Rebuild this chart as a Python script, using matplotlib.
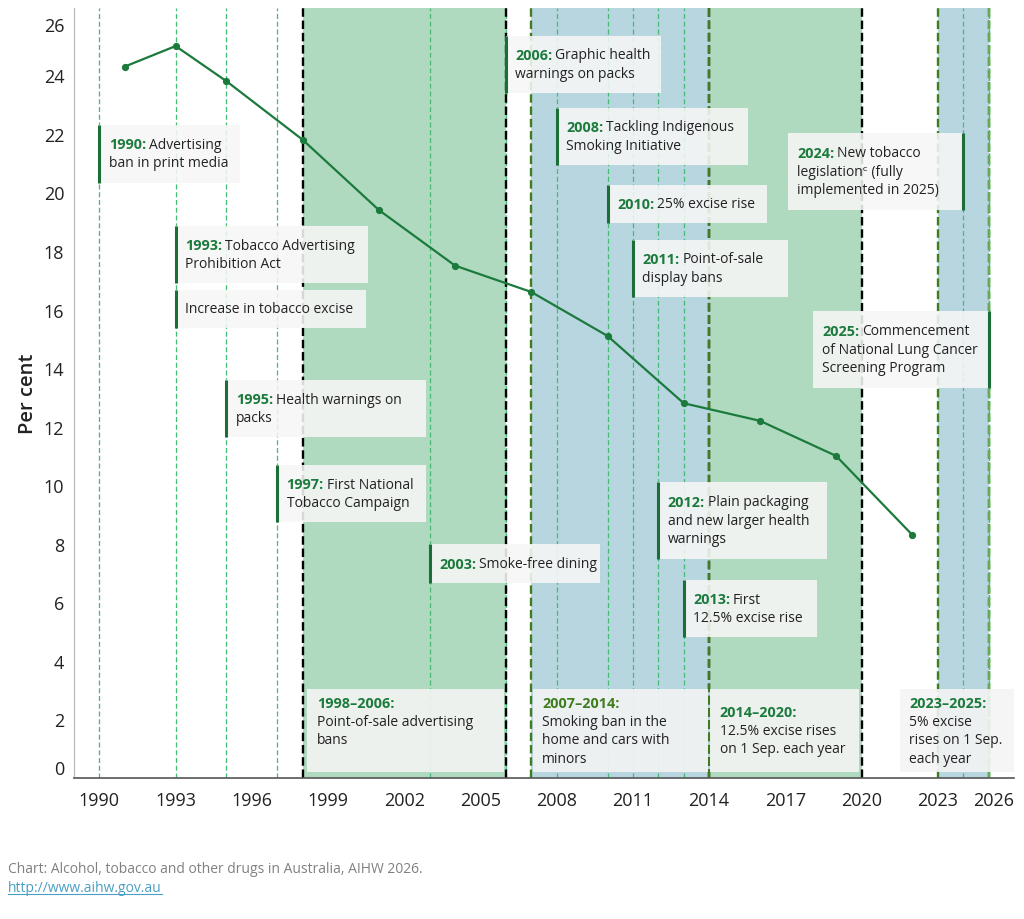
import matplotlib
matplotlib.use('Agg')
import matplotlib.pyplot as plt
from matplotlib.patches import Rectangle

# daily smokers aged 14 and over (per cent), survey years
survey_years = [1991, 1993, 1995, 1998, 2001, 2004, 2007, 2010, 2013, 2016, 2019, 2022]
daily_smoking = [24.3, 25.0, 23.8, 21.8, 19.4, 17.5, 16.6, 15.1, 12.8, 12.2, 11.0, 8.3]

x_ticks = [1990, 1993, 1996, 1999, 2002, 2005, 2008, 2011, 2014, 2017, 2020, 2023, 2026]
y_ticks = list(range(0, 27, 2))

# shaded policy periods
period_starts = [1998, 2007, 2014, 2023]
period_ends = [2006, 2014, 2020, 2025]
period_heads = ['1998–2006:', '2007–2014:', '2014–2020:', '2023–2025:']
period_texts = [
    ['Point-of-sale advertising', 'bans', ''],
    ['Smoking ban in the', 'home and cars with', 'minors'],
    ['12.5% excise rises', 'on 1 Sep. each year'],
    ['5% excise', 'rises on 1 Sep.', 'each year'],
]

# single policy events
event_years = [1990, 1993, 1993, 1995, 1997, 2003, 2006, 2008, 2010, 2011, 2012, 2013, 2024, 2025]
event_heads = ['1990:', '1993:', '', '1995:', '1997:', '2003:', '2006:', '2008:',
               '2010:', '2011:', '2012:', '2013:', '2024:', '2025:']
event_texts = [
    ['Advertising', 'ban in print media'],
    ['Tobacco Advertising', 'Prohibition Act'],
    ['Increase in tobacco excise'],
    ['Health warnings on', 'packs'],
    ['First National', 'Tobacco Campaign'],
    ['Smoke-free dining'],
    ['Graphic health', 'warnings on packs'],
    ['Tackling Indigenous', 'Smoking Initiative'],
    ['25% excise rise'],
    ['Point-of-sale', 'display bans'],
    ['Plain packaging', 'and new larger health', 'warnings'],
    ['First', '12.5% excise rise'],
    ['New tobacco', 'legislation\u1d9c (fully', 'implemented in 2025)'],
    ['Commencement', 'of National Lung Cancer', 'Screening Program'],
]

# layout of the note boxes: width (years), top, bottom (per cent), side of the stem
note_width = [5.55, 7.56, 7.48, 7.87, 5.87, 6.69, 6.10, 7.52, 6.26, 6.10, 6.65, 5.24, 6.90, 6.93]
note_top = [22.32, 18.86, 16.68, 13.60, 10.69, 7.98, 25.36, 22.90, 20.27, 18.39, 10.12, 6.77, 22.04, 15.96]
note_bottom = [20.33, 16.92, 15.38, 11.66, 8.75, 6.67, 23.41, 20.95, 18.97, 16.44, 7.49, 4.83, 19.41, 13.33]
stem_right = [False] * 12 + [True, True]

period_box_left = [1998.19, 2007.06, 2014.05, 2021.50]
period_box_width = [7.72, 6.89, 5.85, 4.49]
period_box_top = 3.03
period_box_bottom = 0.21

GREEN = '#1b7a3c'
OLIVE = '#3f7d1e'
TEXT = '#222222'
BAND_GREEN = '#afdabf'
BAND_BLUE = '#b7d6df'
THIN = '#45bb74'
LINE_PT = 13.2   # line spacing of note text in points
PAD_PT = 6.8

plt.rcParams['font.family'] = ['Open Sans', 'DejaVu Sans']

fig = plt.figure(figsize=(10.24, 9.2), dpi=100)
ax = fig.add_axes([74 / 1024, 1 - 779 / 920, 940 / 1024, 770 / 920])
ax.set_xlim(1989, 2026)
ax.set_ylim(0, 26.3)


def write_lines(x, yc, head, lines, head_color, head_own_line):
    rows = ([head] if head_own_line else []) + lines
    n = len(rows)
    top = (n - 1) / 2 * LINE_PT
    for i, row in enumerate(rows):
        dy = top - i * LINE_PT
        if i == 0 and head:
            h = ax.annotate(head, (x, yc), xytext=(PAD_PT, dy), textcoords='offset points',
                            fontsize=10.4, fontweight='bold', color=head_color,
                            va='center', ha='left', zorder=8)
            if not head_own_line and row:
                ax.annotate(row, xy=(1, 0.5), xycoords=h, xytext=(2, 0),
                            textcoords='offset points', fontsize=10, color=TEXT,
                            va='center', ha='left', zorder=8)
        else:
            ax.annotate(row, (x, yc), xytext=(PAD_PT, dy), textcoords='offset points',
                        fontsize=10, color=TEXT, va='center', ha='left', zorder=8)


# shaded bands
for i in range(len(period_starts)):
    band = BAND_GREEN if i % 2 == 0 else BAND_BLUE
    ax.axvspan(period_starts[i], period_ends[i], color=band, lw=0, zorder=1)

# thin lines for single events
for yr in sorted(set(event_years)):
    ax.axvline(yr, color=THIN, lw=0.9, dashes=(4, 2.2), zorder=2)

# period boundaries: black for the green periods, olive for the blue ones (drawn last)
for i in [0, 2, 1, 3]:
    edge = 'black' if i % 2 == 0 else OLIVE
    for yr in (period_starts[i], period_ends[i]):
        ax.axvline(yr, color=edge, lw=1.7, dashes=(3.6, 1.6), zorder=3)
ax.axvline(2025, color='#69a84f', lw=1.7, dashes=(3.6, 1.6), zorder=3)
ax.axvline(2025, color=THIN, lw=0.9, dashes=(4, 2.2), zorder=3)

# data line
ax.plot(survey_years, daily_smoking, color=GREEN, lw=1.6, marker='o', ms=4.2, zorder=4)

# event notes
for i in range(len(event_years)):
    yr = event_years[i]
    left = yr - note_width[i] if stem_right[i] else yr
    ax.add_patch(Rectangle((left, note_bottom[i]), note_width[i], note_top[i] - note_bottom[i],
                           facecolor='#f6f6f6', alpha=0.88, lw=0, zorder=5))
    ax.plot([yr, yr], [note_bottom[i], note_top[i]], color='#1a6e36', lw=2.2,
            solid_capstyle='butt', zorder=6)
    write_lines(left, (note_top[i] + note_bottom[i]) / 2, event_heads[i], event_texts[i],
                GREEN, False)

# period notes
for i in range(len(period_starts)):
    ax.add_patch(Rectangle((period_box_left[i], period_box_bottom), period_box_width[i],
                           period_box_top - period_box_bottom,
                           facecolor='#f4f4f4', alpha=0.9, lw=0, zorder=5))
    head_color = OLIVE if i == 1 else GREEN
    write_lines(period_box_left[i], (period_box_top + period_box_bottom) / 2,
                period_heads[i], period_texts[i], head_color, True)

# axes styling
for side in ('top', 'right'):
    ax.spines[side].set_visible(False)
ax.spines['left'].set_color('#b5b5b5')
ax.spines['bottom'].set_color('#555555')
ax.spines['bottom'].set_linewidth(1.2)
ax.spines['left'].set_zorder(9)
ax.spines['bottom'].set_zorder(9)

ax.set_xticks(x_ticks)
ax.set_xticklabels([str(t) for t in x_ticks])
ax.set_yticks(y_ticks)
ax.tick_params(axis='x', length=0, pad=9, labelsize=13, labelcolor=TEXT)
ax.tick_params(axis='y', length=0, pad=7, labelsize=13, labelcolor=TEXT)
ax.get_xticklabels()[-1].set_ha('right')
ax.get_yticklabels()[0].set_va('bottom')
ax.get_yticklabels()[-1].set_va('top')

ax.set_ylabel('Per cent', fontsize=14.5, fontweight='semibold', color=TEXT, labelpad=4)

fig.text(8 / 1024, 1 - 870 / 920, 'Chart: Alcohol, tobacco and other drugs in Australia, AIHW 2026.',
         fontsize=10, color='#808080', va='center')
url = fig.text(8 / 1024, 1 - 889 / 920, 'http://www.aihw.gov.au', fontsize=10,
               color='#4a9fc4', va='center')
fig.canvas.draw()
bb = url.get_window_extent().transformed(fig.transFigure.inverted())
fig.add_artist(plt.Line2D([bb.x0, bb.x1], [bb.y0 + 0.002, bb.y0 + 0.002],
                          transform=fig.transFigure, color='#4a9fc4', lw=0.8))

fig.savefig('out.png', dpi=100)
